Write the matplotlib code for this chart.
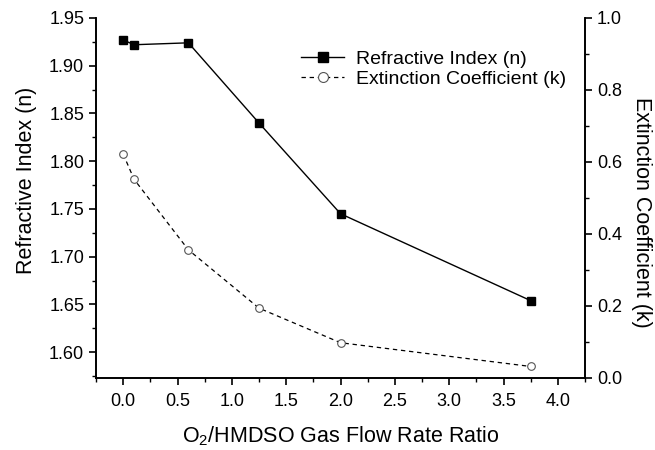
import numpy as np
import matplotlib
matplotlib.use("Agg")
import matplotlib.pyplot as plt
from matplotlib.ticker import MultipleLocator

plt.rcParams["font.family"] = ["Liberation Sans", "DejaVu Sans"]
plt.rcParams["mathtext.fontset"] = "custom"
plt.rcParams["mathtext.rm"] = "Liberation Sans"

# O2/HMDSO gas flow rate ratio
ratio = [0.0, 0.1, 0.6, 1.25, 2.0, 3.75]
# refractive index n and extinction coefficient k
n_vals = [1.927, 1.922, 1.924, 1.840, 1.745, 1.654]
k_vals = [0.622, 0.552, 0.356, 0.194, 0.098, 0.032]

fig = plt.figure(figsize=(6.55, 4.5), dpi=100)
ax = fig.add_axes([0.1466, 0.16, 0.7466, 0.80])
ax2 = ax.twinx()

l1, = ax.plot(ratio, n_vals, "-", color="black", lw=1.0, marker="s",
              ms=5.2, mfc="black", mec="black", label="Refractive Index (n)")
l2, = ax2.plot(ratio, k_vals, "--", color="black", lw=0.9, dashes=(3.5, 3),
               marker="o", ms=5.5, mfc="white", mec="#555555", mew=0.8,
               label="Extinction Coefficient (k)")

ax.set_xlim(-0.25, 4.25)
ax.set_ylim(1.573, 1.95)
ax2.set_ylim(0.0, 1.0)

ax.xaxis.set_major_locator(MultipleLocator(0.5))
ax.xaxis.set_minor_locator(MultipleLocator(0.25))
ax.yaxis.set_major_locator(MultipleLocator(0.05))
ax.yaxis.set_minor_locator(MultipleLocator(0.025))
ax2.yaxis.set_major_locator(MultipleLocator(0.2))
ax2.yaxis.set_minor_locator(MultipleLocator(0.1))
ax.yaxis.set_major_formatter(plt.FormatStrFormatter("%.2f"))
ax.xaxis.set_major_formatter(plt.FormatStrFormatter("%.1f"))
ax2.yaxis.set_major_formatter(plt.FormatStrFormatter("%.1f"))

for a in (ax, ax2):
    a.spines["top"].set_visible(False)
    for s in a.spines.values():
        s.set_linewidth(1.2)
    a.tick_params(which="major", direction="out", length=5, width=1.2, labelsize=13)
    a.tick_params(which="minor", direction="out", length=3, width=1.0)
ax.tick_params(axis="x", which="major", pad=6)

ax.set_xlabel("O$_2$/HMDSO Gas Flow Rate Ratio", fontsize=15.5)
ax.xaxis.set_label_coords(0.5, -0.13)
ax.set_ylabel("Refractive Index (n)", fontsize=15.5)
ax.yaxis.set_label_coords(-0.12, 0.55)
ax2.set_ylabel("Extinction Coefficient (k)", fontsize=15.5, rotation=270)
ax2.yaxis.set_label_coords(1.137, 0.46)

ax.legend(handles=[l1, l2], loc="upper left", bbox_to_anchor=(0.42, 0.911),
          frameon=False, fontsize=14, handlelength=2.2, handletextpad=0.6,
          labelspacing=0.12, borderaxespad=0, borderpad=0, markerscale=1.3)

fig.savefig("out.png", dpi=100)
